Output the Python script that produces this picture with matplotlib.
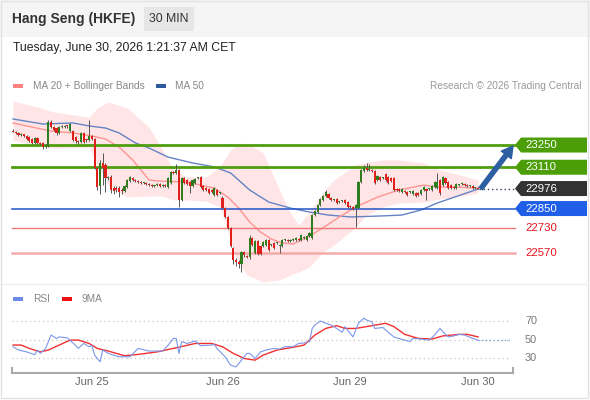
import numpy as np
import matplotlib
matplotlib.use('Agg')
import matplotlib.pyplot as plt
from matplotlib.patches import Polygon, Rectangle
from matplotlib.lines import Line2D
from matplotlib.transforms import blended_transform_factory

plt.rcParams['font.family'] = ['Liberation Sans', 'DejaVu Sans']

# ---------------- data ----------------
opens = [23338, 23335, 23326, 23313, 23319, 23307, 23300, 23288, 23263, 23294,
         23263, 23263, 23237, 23244, 23395, 23363, 23357, 23326, 23363, 23365,
         23370, 23338, 23338, 23300, 23275, 23269, 23326, 23282, 23282, 23307,
         23288, 23105, 22992, 23137, 23124, 23042, 23048, 22979, 22979, 22979,
         22967, 22960, 22985, 23023, 23042, 23030, 23023, 23017, 23011, 23011,
         23004, 22998, 22992, 22998, 23004, 22992, 22998, 22985, 23011, 23080,
         23074, 23093, 22904, 23042, 23030, 23017, 22992, 23011, 23042, 23048,
         22992, 22979, 22973, 22967, 22935, 22967, 22948, 22916, 22853, 22797,
         22728, 22601, 22526, 22513, 22500, 22576, 22551, 22545, 22665, 22570,
         22646, 22614, 22614, 22620, 22652, 22620, 22633, 22633, 22614, 22614,
         22652, 22652, 22646, 22652, 22652, 22658, 22652, 22665, 22652, 22677,
         22665, 22809, 22828, 22872, 22904, 22929, 22941, 22916, 22904, 22910,
         22891, 22897, 22904, 22891, 22866, 22859, 22853, 22853, 23017, 23086,
         23105, 23093, 23093, 23086, 23030, 23048, 23042, 23067, 23048, 23042,
         23042, 22973, 22973, 22954, 22960, 22954, 22954, 22941, 22948, 22948,
         22941, 22967, 22973, 22973, 22967, 22985, 22979, 23030, 22998, 23042,
         23017, 22998, 22985, 22979, 22998, 23004, 23004, 22998, 22992, 22992,
         22979, 22979]
closes = [23335, 23326, 23313, 23319, 23307, 23288, 23275, 23263, 23294, 23263,
          23256, 23237, 23250, 23395, 23363, 23345, 23326, 23363, 23370, 23370,
          23368, 23382, 23282, 23275, 23269, 23326, 23269, 23280, 23307, 23288,
          23105, 22985, 23137, 23105, 23042, 23042, 22967, 22960, 22967, 22954,
          22960, 22992, 23030, 23048, 23030, 23023, 23017, 23011, 23011, 23004,
          22998, 22992, 22992, 23004, 22992, 22998, 22992, 23042, 23080, 23074,
          23093, 22904, 23042, 23011, 23004, 22992, 23030, 23036, 23042, 22985,
          22967, 22967, 22948, 22954, 22979, 22935, 22948, 22853, 22797, 22728,
          22614, 22526, 22513, 22500, 22576, 22557, 22545, 22665, 22620, 22646,
          22564, 22564, 22639, 22652, 22589, 22620, 22601, 22633, 22620, 22652,
          22652, 22646, 22652, 22658, 22665, 22652, 22683, 22671, 22677, 22696,
          22809, 22835, 22872, 22910, 22929, 22954, 22916, 22904, 22904, 22885,
          22891, 22897, 22885, 22859, 22859, 22847, 22872, 23017, 23093, 23105,
          23093, 23093, 23086, 23011, 23055, 23030, 23042, 23030, 23011, 23023,
          22967, 22967, 22960, 22973, 22954, 22935, 22954, 22960, 22929, 22935,
          22967, 22985, 22960, 22973, 22992, 23017, 23017, 22948, 23048, 23011,
          22979, 22979, 22979, 23004, 22998, 23011, 22998, 22992, 22992, 22979,
          22979, 22976]
highs = [23350, 23340, 23330, 23325, 23322, 23312, 23305, 23292, 23300, 23298,
         23268, 23269, 23256, 23407, 23407, 23370, 23363, 23370, 23376, 23378,
         23376, 23389, 23345, 23305, 23280, 23332, 23332, 23290, 23407, 23312,
         23294, 23110, 23156, 23200, 23137, 23055, 23061, 22992, 22992, 22992,
         22979, 22998, 23036, 23055, 23050, 23036, 23030, 23023, 23017, 23017,
         23011, 23004, 22998, 23011, 23011, 23004, 23004, 23048, 23086, 23086,
         23130, 23099, 23048, 23048, 23036, 23023, 23036, 23042, 23048, 23055,
         22998, 22985, 22979, 22973, 22985, 22973, 22954, 22929, 22860, 22805,
         22735, 22610, 22538, 22526, 22582, 22582, 22557, 22683, 22671, 22652,
         22652, 22620, 22646, 22658, 22658, 22627, 22639, 22639, 22627, 22658,
         22658, 22658, 22658, 22665, 22671, 22665, 22690, 22677, 22683, 22702,
         22815, 22841, 22878, 22916, 22935, 22967, 22948, 22922, 22910, 22916,
         22897, 22904, 22910, 22897, 22872, 22866, 22878, 23023, 23099, 23124,
         23137, 23130, 23099, 23093, 23061, 23055, 23048, 23074, 23055, 23048,
         23048, 22979, 22979, 22979, 22967, 22960, 22960, 22967, 22954, 22954,
         22973, 22992, 22979, 22979, 22998, 23023, 23074, 23036, 23055, 23048,
         23023, 23004, 22992, 23011, 23004, 23017, 23011, 23004, 22998, 22998,
         22985, 22985]
lows = [23330, 23320, 23308, 23308, 23300, 23282, 23270, 23256, 23256, 23256,
        23250, 23225, 23230, 23237, 23355, 23338, 23313, 23320, 23357, 23360,
        23360, 23332, 23275, 23265, 23256, 23262, 23262, 23270, 23275, 23282,
        23100, 22967, 22941, 23000, 22954, 23030, 22948, 22941, 22954, 22922,
        22941, 22954, 22979, 23017, 23023, 23017, 23011, 23004, 23004, 22998,
        22992, 22985, 22985, 22992, 22985, 22985, 22985, 22979, 23004, 23067,
        23067, 22859, 22897, 23004, 22998, 22948, 22985, 23004, 23036, 22979,
        22960, 22960, 22941, 22948, 22929, 22929, 22941, 22847, 22790, 22720,
        22605, 22500, 22488, 22475, 22450, 22545, 22538, 22532, 22614, 22564,
        22557, 22557, 22608, 22614, 22582, 22614, 22595, 22627, 22570, 22608,
        22646, 22639, 22639, 22646, 22646, 22646, 22646, 22658, 22646, 22671,
        22658, 22803, 22822, 22866, 22897, 22922, 22910, 22897, 22897, 22878,
        22885, 22891, 22878, 22853, 22853, 22841, 22734, 22847, 23011, 23080,
        23086, 23086, 23080, 23004, 23023, 23023, 23036, 23023, 23004, 23017,
        22960, 22960, 22954, 22948, 22948, 22929, 22948, 22935, 22922, 22929,
        22935, 22960, 22904, 22967, 22960, 22979, 22973, 22935, 22992, 23004,
        22973, 22973, 22973, 22973, 22992, 22998, 22992, 22985, 22985, 22973,
        22973, 22970]

# indicator lines (candle index, value)
ma20_idx = [0, 7, 14, 22, 29, 34, 39, 44, 50, 54, 64, 74, 79, 83, 87, 91, 95,
            99, 103, 109, 115, 120, 126, 134, 142, 151, 156, 163, 171]
ma20_val = [23389, 23363, 23338, 23326, 23307, 23288, 23237, 23156, 23030, 23023,
            23017, 22979, 22922, 22853, 22765, 22702, 22658, 22633, 22627, 22677,
            22740, 22797, 22860, 22922, 22967, 22998, 22985, 22985, 22979]
bb_idx = [0, 9, 15, 28, 31, 35, 42, 50, 55, 59, 64, 71, 76, 80, 82, 86, 92, 98,
          102, 105, 109, 114, 118, 126, 130, 136, 142, 151, 157, 163, 171]
bb_upper = [23527, 23489, 23458, 23426, 23483, 23521, 23483, 23363, 23219, 23093,
            23049, 23049, 23112, 23219, 23244, 23263, 23200, 22967, 22822, 22746,
            22828, 22954, 23030, 23124, 23143, 23156, 23156, 23137, 23093, 23068,
            23030]
bb_lower = [23282, 23244, 23231, 23237, 23124, 22998, 22923, 22929, 22929, 22904,
            22904, 22897, 22860, 22652, 22539, 22432, 22387, 22400, 22432, 22451,
            22482, 22576, 22620, 22734, 22809, 22860, 22885, 22891, 22910, 22923,
            22948]
ma50_idx = [0, 11, 22, 28, 34, 39, 45, 50, 57, 66, 74, 80, 87, 94, 102, 109, 116,
            124, 135, 143, 150, 156, 171]
ma50_val = [23414, 23382, 23389, 23370, 23357, 23326, 23263, 23231, 23174, 23137,
            23112, 23074, 22967, 22891, 22853, 22828, 22809, 22797, 22803, 22809,
            22841, 22885, 22973]

rsi_idx = [0, 2, 5, 8, 9, 10, 12, 14, 16, 17, 20, 23, 24, 26, 28, 29, 30, 32, 33, 35,
           37, 39, 43, 46, 50, 55, 57, 59, 60, 61, 62, 64, 67, 69, 73, 74, 75, 78, 80, 82,
           84, 86, 87, 89, 91, 93, 96, 98, 100, 103, 105, 107, 109, 110, 111, 113, 115,
           117, 119, 121, 122, 125, 127, 129, 130, 132, 133, 136, 137, 140, 141, 144,
           146, 147, 150, 153, 155, 157, 158, 160, 162, 164, 166, 169, 171]
rsi_val = [42.5, 39, 37, 34, 39, 35.4, 40.7, 55, 51.4, 53, 52, 44, 40.7, 46, 42.5, 44,
           33.6, 26.4, 39, 35.4, 33.6, 31.8, 31.8, 40.7, 37.9, 37.9, 44, 51.4, 51.4, 35.4,
           47.9, 46, 48.6, 43.6, 44.3, 45, 40.7, 31.8, 22.9, 21, 28.2, 35.4, 35.4, 30, 37,
           39, 40.7, 40, 42.5, 42.5, 46, 46.5, 47.9, 62, 65.7, 70, 67.5, 65.7, 62, 58, 64,
           53, 67.5, 73, 71, 69, 62, 63, 60.4, 53, 52, 49.6, 48, 51.4, 50.7, 49.6, 55, 62,
           58.6, 53, 54, 55.7, 55, 51.4, 49.6]
rsi_ma_idx = [0, 3, 6, 10, 13, 17, 21, 24, 28, 31, 35, 41, 46, 53, 60, 67, 73, 77, 81,
              85, 89, 92, 97, 104, 107, 111, 115, 119, 122, 126, 132, 137, 140, 144,
              149, 154, 158, 164, 167, 171]
rsi_ma_val = [44.3, 44.3, 40.7, 37, 39, 44.3, 49.6, 49.6, 46, 40.7, 37.9, 32.9, 34.3,
              37, 41.4, 46, 46, 42.5, 35.4, 30, 28.2, 33.6, 38.9, 42.5, 44.3, 55, 62,
              65, 62, 62, 65, 67.5, 64, 55.7, 51.4, 50.7, 54, 55.7, 55.7, 53]

resist_levels = [23250, 23110]
last_price = 22976
pivot_level = 22850
support_levels = [22730, 22570]
rsi_levels = [70, 50, 30]
day_pos = [29, 77, 124, 171]
day_labels = ['Jun 25', 'Jun 26', 'Jun 29', 'Jun 30']

# ---------------- figure ----------------
W, H = 590, 400
fig = plt.figure(figsize=(W / 100, H / 100), dpi=100)
fig.patch.set_facecolor('white')


def fx(px):
    return px / W


def fy(py):
    return 1 - py / H


# header band
fig.patches.append(Rectangle((0, fy(37)), 1, 37 / H, transform=fig.transFigure,
                             facecolor='#f5f5f5', edgecolor='none', zorder=0))
fig.patches.append(Rectangle((fx(1), fy(398)), 587 / W, 397 / H, transform=fig.transFigure,
                             facecolor='none', edgecolor='#e2e2e2', lw=1, zorder=0))
fig.text(fx(12), fy(19), 'Hang Seng (HKFE)', fontsize=10, fontweight='bold',
         color='#333333', va='center', ha='left')
fig.patches.append(Rectangle((fx(144), fy(31)), 50 / W, 24 / H, transform=fig.transFigure,
                             facecolor='#e6e6e6', edgecolor='none', zorder=1))
fig.text(fx(169), fy(19), '30 MIN', fontsize=8.8, color='#333333', va='center', ha='center')
fig.text(fx(13), fy(48), 'Tuesday, June 30, 2026 1:21:37 AM CET', fontsize=8.8,
         color='#222222', va='center', ha='left')

# legend row
fig.patches.append(Rectangle((fx(13), fy(88)), 10 / W, 4 / H, transform=fig.transFigure,
                             facecolor='#ff8080', edgecolor='none'))
fig.text(fx(33), fy(86), 'MA 20 + Bollinger Bands', fontsize=7.3, color='#888888', va='center')
fig.patches.append(Rectangle((fx(156), fy(88)), 10 / W, 4 / H, transform=fig.transFigure,
                             facecolor='#2d5a9e', edgecolor='none'))
fig.text(fx(175), fy(86), 'MA 50', fontsize=7.3, color='#888888', va='center')
fig.text(fx(581), fy(86), 'Research \u00a9 2026 Trading Central', fontsize=7.3,
         color='#999999', va='center', ha='right')

# ---------------- price panel ----------------
ax = fig.add_axes([fx(12), fy(290), 498 / W, 195 / H])
ax.set_xlim(-0.37, 182.72)
ax.set_ylim(22337, 23565)
ax.axis('off')

xs = np.arange(len(closes))
o = np.array(opens, float)
c = np.array(closes, float)
h = np.array(highs, float)
l = np.array(lows, float)

ax.fill_between(bb_idx, bb_lower, bb_upper, color='#ffe5e5', lw=0, zorder=1)
ax.plot(ma50_idx, ma50_val, color='#6583c4', lw=1.0, zorder=2)
ax.plot(ma20_idx, ma20_val, color='#ff9494', lw=1.0, zorder=2)

up = c >= o
ax.vlines(xs, l, h, color='#555555', lw=0.7, zorder=3)
body_h = np.maximum(np.abs(c - o), 5)
ax.bar(xs[up], body_h[up], bottom=np.minimum(o, c)[up], width=0.78,
       color='#2f7d1f', zorder=4, lw=0)
ax.bar(xs[~up], body_h[~up], bottom=np.minimum(o, c)[~up], width=0.78,
       color='#e0201b', zorder=4, lw=0)

bt = blended_transform_factory(ax.transAxes, ax.transData)
x_end = (515 - 12) / 498
for lev in resist_levels:
    ax.plot([0, x_end], [lev, lev], color='#4f9e10', lw=2, transform=bt,
            clip_on=False, zorder=2.5)
ax.plot([0, x_end], [pivot_level, pivot_level], color='#2254c8', lw=1.1,
        transform=bt, clip_on=False, zorder=2.5)
ax.plot([0, x_end], [support_levels[0]] * 2, color='#f07a7a', lw=1.0,
        transform=bt, clip_on=False, zorder=2.5)
ax.plot([0, x_end], [support_levels[1]] * 2, color='#f5aaaa', lw=1.8,
        transform=bt, clip_on=False, zorder=2.5)
x_last = ax.transAxes.inverted().transform(ax.transData.transform((len(closes) - 0.5, 0)))[0]
ax.plot([x_last, x_end], [last_price, last_price], color='#334466', lw=1.0,
        ls=(0, (1, 2)), transform=bt, clip_on=False, zorder=2.5)


# price labels on the right
def ydisp(v):
    return ax.transData.transform((0, v))[1]


def tag(v, color, text):
    yd = ydisp(v)
    pts = [(515, yd), (521, yd + 7.5), (587, yd + 7.5), (587, yd - 7.5), (521, yd - 7.5)]
    pts = [(px / W, py / H) for px, py in pts]
    fig.patches.append(Polygon(pts, closed=True, transform=fig.transFigure,
                               facecolor=color, edgecolor='none', zorder=5))
    fig.text(525 / W, yd / H, text, fontsize=8.2, color='white', va='center',
             ha='left', zorder=6)


for lev in resist_levels:
    tag(lev, '#4c9e08', f'{lev}')
tag(last_price, '#333333', f'{last_price}')
tag(pivot_level, '#1f5fe8', f'{pivot_level}')
for lev in support_levels:
    fig.text(525 / W, ydisp(lev) / H, f'{lev}', fontsize=8.2, color='#e8141c',
             va='center', ha='left')

# forecast arrow
ax.annotate('', xy=(513, ydisp(resist_levels[0]) - 1), xycoords='figure pixels',
            xytext=(len(closes), last_price), textcoords='data',
            arrowprops=dict(arrowstyle='simple,head_length=0.8,head_width=0.9,tail_width=0.3',
                            color='#2e5fa3', mutation_scale=10, shrinkA=0, shrinkB=0),
            annotation_clip=False, zorder=6)

# separator between panels
fig.add_artist(Line2D([fx(2), fx(588)], [fy(284), fy(284)], color='#efefef', lw=1))

# ---------------- RSI panel ----------------
fig.patches.append(Rectangle((fx(13), fy(301)), 10 / W, 4 / H, transform=fig.transFigure,
                             facecolor='#6b8be8', edgecolor='none'))
fig.text(fx(33), fy(299), 'RSI', fontsize=7.3, color='#888888', va='center')
fig.patches.append(Rectangle((fx(62), fy(301)), 10 / W, 4 / H, transform=fig.transFigure,
                             facecolor='#ee1111', edgecolor='none'))
fig.text(fx(82), fy(299), '9MA', fontsize=7.3, color='#888888', va='center')

rax = fig.add_axes([fx(12), fy(373), 498 / W, 68 / H])
rax.set_xlim(-0.37, 182.72)
rax.set_ylim(14.5, 87)
rax.axis('off')
rbt = blended_transform_factory(rax.transAxes, rax.transData)
for lv in rsi_levels:
    rax.plot([0, 1], [lv, lv], color='#c4c4c4', lw=0.9, ls=(0, (1, 2.5)), transform=rbt)
    yd = rax.transData.transform((0, lv))[1]
    fig.text(525 / W, yd / H, f'{lv}', fontsize=7.8, color='#777777', va='center', ha='left')

rax.plot(rsi_ma_idx, rsi_ma_val, color='#f03030', lw=1.0, zorder=3)
rax.plot(rsi_idx, rsi_val, color='#7b97ea', lw=0.8, zorder=4)
rx_last = rax.transAxes.inverted().transform(rax.transData.transform((rsi_idx[-1], 0)))[0]
rax.plot([rx_last, 1], [rsi_val[-1], rsi_val[-1]], color='#7b97ea', lw=0.9,
         ls=(0, (1, 2)), transform=rbt)

# bottom axis line with end caps
rax.plot([0, 1.006], [0, 0], color='#aaaaaa', lw=1.5, transform=rax.transAxes, clip_on=False)
rax.plot([0, 0], [0, 0.08], color='#aaaaaa', lw=1.5, transform=rax.transAxes, clip_on=False)
rax.plot([1.006, 1.006], [0, 0.08], color='#aaaaaa', lw=1.5, transform=rax.transAxes,
         clip_on=False)

dbt = blended_transform_factory(rax.transData, fig.transFigure)
for p, lab in zip(day_pos, day_labels):
    rax.text(p, fy(382), lab, transform=dbt, fontsize=8, color='#666666',
             ha='center', va='center', clip_on=False)

fig.savefig('out.png', dpi=100)
